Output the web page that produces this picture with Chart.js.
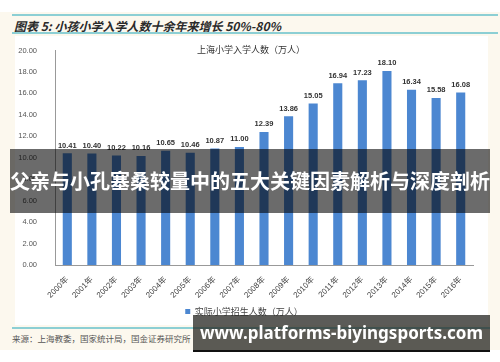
<!DOCTYPE html>
<html>
<head>
<meta charset="utf-8">
<script src="https://cdn.jsdelivr.net/npm/chart.js@4"></script>
<style>
  body { margin: 0; background: #fff; }
  #page { position: relative; width: 500px; height: 362px; overflow: hidden; background: #fff; }
  .abs { position: absolute; }
  .cream { left: 0; top: 12px; width: 500px; height: 338px; background: #fcf8ee; }
  .teal { height: 2px; background: #8ccfd4; }
  .fig-title { left: 14px; top: 17px; font: italic bold 12px "Noto Sans CJK SC", sans-serif; color: #2a2a2a; white-space: nowrap; }
  .panel { left: 15px; top: 36px; width: 473px; height: 289px; background: #fff; }
  .chart-title { left: 151px; top: 43px; width: 200px; text-align: center; font: 9px "Noto Sans CJK SC", sans-serif; color: #333; }
  .source { left: 12px; top: 332px; font: 8.5px "Noto Sans CJK SC", sans-serif; color: #555; white-space: nowrap; }
  .band { left: 10px; top: 149px; width: 480px; height: 64px; background: rgba(0,0,0,0.58);
          color: #fff; font: bold 20px "Noto Sans CJK SC", sans-serif; line-height: 64px; text-align: center; white-space: nowrap; }
  .mark { left: 193px; top: 315px; width: 297px; height: 35px; background: rgba(40,40,36,0.76);
          border-bottom: 2px solid #111; color: #fff; font: bold 17px "Noto Sans", sans-serif; line-height: 35px; text-align: center; white-space: nowrap; }
</style>
</head>
<body>
<div id="page">
  <div class="abs cream"></div>
  <div class="abs teal" style="left:12px;top:14px;width:486px;"></div>
  <div class="abs fig-title">图表 5: 小孩小学入学人数十余年来增长 50%-80%</div>
  <div class="abs teal" style="left:12px;top:32px;width:486px;"></div>
  <div class="abs panel"></div>
  <div class="abs" style="left:15px;top:36px;width:475px;height:290px;">
    <canvas id="school-chart" width="475" height="290"></canvas>
  </div>
  <div class="abs chart-title">上海小学入学人数（万人）</div>
  <div class="abs teal" style="left:12px;top:327px;width:478px;"></div>
  <div class="abs source">来源：上海教委，国家统计局，国金证券研究所</div>
  <div class="abs band">父亲与小孔塞桑较量中的五大关键因素解析与深度剖析</div>
  <div class="abs mark">www.platforms-biyingsports.com</div>
</div>
<script>
"use strict";

var years = ["2000年", "2001年", "2002年", "2003年", "2004年", "2005年", "2006年", "2007年", "2008年",
             "2009年", "2010年", "2011年", "2012年", "2013年", "2014年", "2015年", "2016年"];
var enrolled = [10.41, 10.40, 10.22, 10.16, 10.65, 10.46, 10.87, 11.00, 12.39,
                13.86, 15.05, 16.94, 17.23, 18.10, 16.34, 15.58, 16.08];
var seriesName = "实际小学招生人数（万人）";

// value labels above bars
var barLabels = {
  id: "barLabels",
  afterDatasetsDraw: function (chart) {
    var ctx = chart.ctx;
    var meta = chart.getDatasetMeta(0);
    ctx.save();
    ctx.font = "bold 7.5px 'Liberation Sans', Arial, sans-serif";
    ctx.fillStyle = "#333";
    ctx.textAlign = "center";
    ctx.textBaseline = "bottom";
    meta.data.forEach(function (bar, i) {
      ctx.fillText(enrolled[i].toFixed(2), bar.x, bar.y - 4);
    });
    ctx.restore();
  },
};

var ctx1 = document.getElementById("school-chart").getContext("2d");

var schoolChart = new Chart(ctx1, {
  type: "bar",
  data: {
    labels: years,
    datasets: [
      {
        label: seriesName,
        data: enrolled,
        backgroundColor: "#4c87d1",
        borderWidth: 0,
        categoryPercentage: 1,
        barPercentage: 0.37,
      },
    ],
  },
  options: {
    responsive: false,
    animation: false,
    devicePixelRatio: 1,
    layout: {
      padding: { top: 10, right: 17, bottom: 0, left: 0 },
    },
    plugins: {
      tooltip: { enabled: false },
      legend: {
        position: "bottom",
        labels: {
          boxWidth: 5,
          boxHeight: 5,
          padding: 6,
          color: "#444",
          font: { family: "'Noto Sans CJK SC', sans-serif", size: 9 },
        },
      },
    },
    scales: {
      x: {
        grid: { display: false },
        border: { display: true, color: "#999", width: 1 },
        ticks: {
          color: "#444",
          padding: 2,
          minRotation: 45,
          maxRotation: 45,
          font: { family: "'Liberation Sans', 'Noto Sans CJK SC', sans-serif", size: 8 },
        },
        afterFit: function (scale) {
          scale.height = 36;
        },
      },
      y: {
        min: 0,
        max: 20,
        grid: { display: false },
        border: { display: true, color: "#999", width: 1 },
        ticks: {
          stepSize: 2,
          padding: 10,
          color: "#555",
          font: { family: "'Liberation Sans', Arial, sans-serif", size: 7.5 },
          callback: function (value) {
            return Number(value).toFixed(2);
          },
        },
        afterFit: function (scale) {
          scale.width = 40;
        },
      },
    },
  },
  plugins: [barLabels],
});
</script>
</body>
</html>
